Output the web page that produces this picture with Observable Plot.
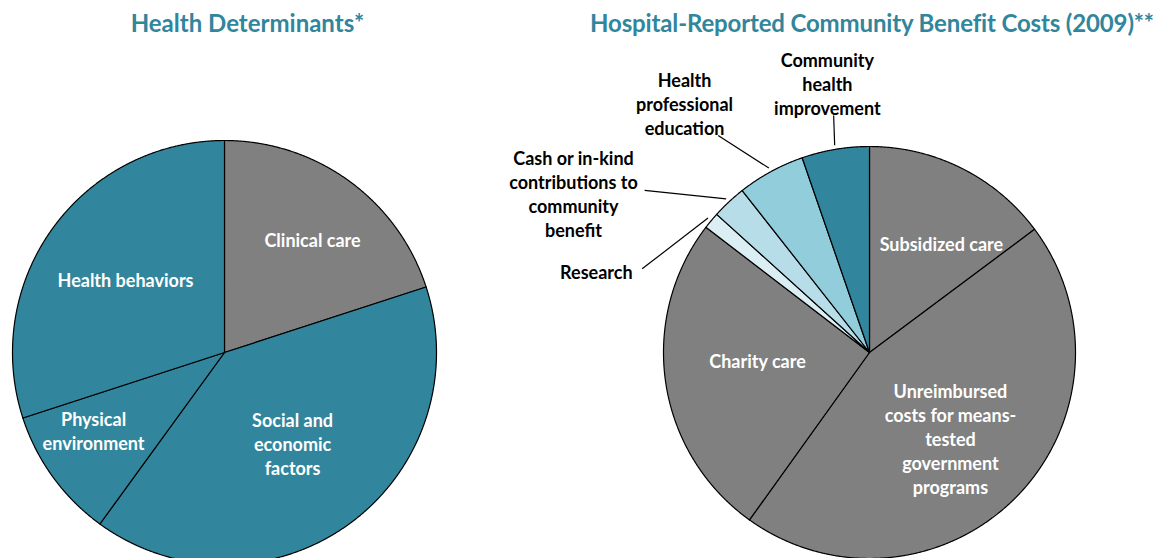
<!DOCTYPE html>
<html><head><meta charset="utf-8">
<script src="https://cdn.jsdelivr.net/npm/d3@7"></script>
<script src="https://cdn.jsdelivr.net/npm/@observablehq/plot@0.6"></script>
<style>
body{margin:0;background:#fff;}
#wrap{position:relative;width:1158px;height:558px;overflow:hidden;background:#fff;font-family:Lato,sans-serif;}
.title{position:absolute;top:11px;font-weight:bold;font-size:24px;line-height:24px;color:#31859C;text-align:center;white-space:nowrap;z-index:2;}
.pl{position:absolute;top:0;}
</style></head><body>
<div id="wrap"></div>
<script>
// ---- Data ----
const leftTitle = "Health Determinants*";
const leftNames = ["Clinical care", "Social and economic factors", "Physical environment", "Health behaviors"];
const leftValues = [20, 40, 10, 30];
const leftLabels = ["Clinical care", "Social and\neconomic\nfactors", "Physical\nenvironment", "Health behaviors"];

const rightTitle = "Hospital-Reported Community Benefit Costs (2009)**";
const rightNames = ["Subsidized care", "Unreimbursed costs for means-tested government programs", "Charity care", "Research", "Cash or in-kind contributions to community benefit", "Health professional education", "Community health improvement"];
const rightValues = [14.8, 45.1, 25.5, 1.3, 2.7, 5.3, 5.3];
const rightLabels = ["Subsidized care", "Unreimbursed\ncosts for means-\ntested\ngovernment\nprograms", "Charity care", "Research", "Cash or in-kind\ncontributions to\ncommunity\nbenefit", "Health\nprofessional\neducation", "Community\nhealth\nimprovement"];

// ---- Styles / layout ----
const GRAY = "#808080", TEAL = "#31859C";
const leftColors = [GRAY, TEAL, TEAL, TEAL];
const rightColors = [GRAY, GRAY, GRAY, "#DAEEF3", "#B7DEE8", "#92CDDC", TEAL];
// label placement: [angle (deg clockwise from top), radius factor]
const leftLabelPos = [[37.9, 0.676], [143.2, 0.536], [239.2, 0.719], [306.4, 0.58]];
const rightLabelPos = [[33.4, 0.634], [136.7, 0.573], [265.9, 0.545], [286.5, 1.383], [298.3, 1.632], [323.4, 1.506], [351.1, 1.322]];
const rightInside = [true, true, true, false, false, false, false];
// leader line end for outside labels: [angle, radius factor]
const rightLeaderEnd = [null, null, null, [290.2, 1.176], [305.8, 1.346], [325.1, 1.284], [351.4, 1.164]];

const FONT = "Lato, sans-serif";
const wrap = document.getElementById("wrap");

function pol(deg, r) {
  const a = deg * Math.PI / 180;
  return {x: r * Math.sin(a), y: r * Math.cos(a)};
}

function pie({names, values, labels, colors, labelPos, inside, leaderEnd, cx, cy, r, left, width}) {
  const arcs = d3.pie().sort(null).value(d => d)(values);
  const pts = [];
  arcs.forEach((a, i) => {
    pts.push({name: names[i], x: 0, y: 0});
    const n = Math.max(2, Math.ceil((a.endAngle - a.startAngle) / 0.004));
    for (let k = 0; k <= n; k++) {
      const t = a.startAngle + (a.endAngle - a.startAngle) * k / n;
      pts.push({name: names[i], x: Math.sin(t), y: Math.cos(t)});
    }
  });
  const lab = arcs.map((a, i) => {
    const p = pol(labelPos[i][0], labelPos[i][1]);
    return {text: labels[i], x: p.x, y: p.y, inside: inside[i]};
  });
  const leaders = [];
  arcs.forEach((a, i) => {
    if (leaderEnd && leaderEnd[i]) {
      const mid = (a.startAngle + a.endAngle) / 2 * 180 / Math.PI;
      const s = pol(mid, 1.02), e = pol(leaderEnd[i][0], leaderEnd[i][1]);
      leaders.push({x1: s.x, y1: s.y, x2: e.x, y2: e.y});
    }
  });
  const svg = Plot.plot({
    width, height: 558,
    marginTop: 0, marginBottom: 0, marginLeft: 0, marginRight: 0,
    x: {domain: [-1, 1], range: [cx - r, cx + r], axis: null},
    y: {domain: [-1, 1], range: [cy + r, cy - r], axis: null},
    color: {domain: names, range: colors},
    style: {background: "transparent", overflow: "visible"},
    marks: [
      Plot.line(pts, {x: "x", y: "y", z: "name", fill: "name", stroke: "#000", strokeWidth: 1.2, curve: "linear-closed"}),
      Plot.link(leaders, {x1: "x1", y1: "y1", x2: "x2", y2: "y2", stroke: "#000", strokeWidth: 1.2}),
      Plot.text(lab.filter(d => d.inside), {x: "x", y: "y", text: "text", fill: "white", fontWeight: "bold", fontSize: 18, lineHeight: 1.34, fontFamily: FONT}),
      Plot.text(lab.filter(d => !d.inside), {x: "x", y: "y", text: "text", fill: "black", fontWeight: "bold", fontSize: 18, lineHeight: 1.34, fontFamily: FONT})
    ]
  });
  svg.classList.add("pl");
  svg.style.left = left + "px";
  wrap.appendChild(svg);
}

pie({names: leftNames, values: leftValues, labels: leftLabels, colors: leftColors,
     labelPos: leftLabelPos, inside: leftNames.map(() => true), leaderEnd: null,
     cx: 224, cy: 352, r: 212, left: 0, width: 450});
pie({names: rightNames, values: rightValues, labels: rightLabels, colors: rightColors,
     labelPos: rightLabelPos, inside: rightInside, leaderEnd: rightLeaderEnd,
     cx: 869 - 450, cy: 352, r: 206, left: 450, width: 708});

function title(text, center, w, ls) {
  const d = document.createElement("div");
  d.className = "title";
  d.textContent = text;
  d.style.left = (center - w / 2) + "px";
  d.style.width = w + "px";
  d.style.letterSpacing = ls + "px";
  wrap.appendChild(d);
}
title(leftTitle, 247.5, 480, 0);
title(rightTitle, 872, 600, -0.15);
</script>
</body></html>
